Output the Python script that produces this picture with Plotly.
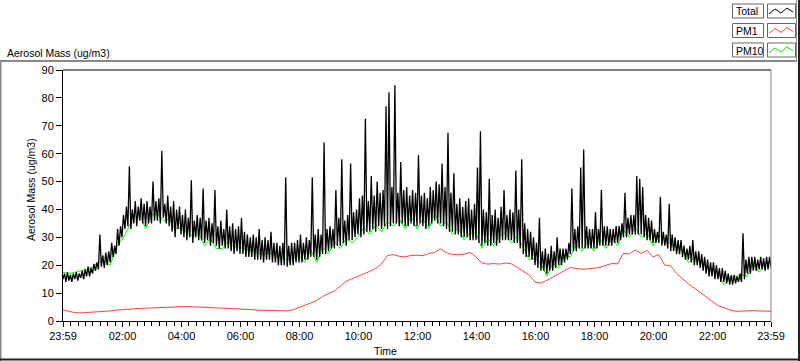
import numpy as np
import plotly.graph_objects as go

# ---- data: hours after the 23:59 start ----
# Total: per 6-minute bin, the lowest and highest reading seen in that bin
TOTAL_STEP_H = 0.1
PM_STEP_H = 0.2      # PM10 and PM1: 12-minute samples

total_low = [
    15, 14, 14.5, 14, 15, 14.5, 15.5, 15, 16, 16,
    17, 18, 18.5, 19.5, 19, 20, 21, 23, 24, 27,
    30, 33, 34, 33, 35, 34, 36, 35, 34, 35,
    35, 36, 36, 35, 37, 35, 34, 32, 30, 33,
    31, 30, 29, 30, 28, 30, 29, 29, 28, 29,
    27, 28, 27, 26, 27, 26, 26, 25, 24, 25,
    24, 24, 23, 23, 23, 22, 22, 22, 21, 22,
    22, 21, 21, 20, 20, 20, 19.5, 20, 20, 21,
    21, 21, 22, 22, 23, 23, 22, 23, 24, 24,
    25, 26, 26, 27, 27, 28, 27, 29, 29, 30,
    31, 30, 31, 32, 32, 33, 32, 34, 33, 34,
    33, 34, 35, 35, 34, 35, 34, 34, 35, 34,
    34, 35, 34, 33, 34, 35, 36, 35, 35, 34,
    33, 32, 32, 31, 31, 30, 30, 30, 29, 29,
    29, 28, 27, 28, 27, 27, 28, 27, 28, 29,
    29, 29, 29, 28, 28, 26, 24, 23, 23, 22,
    20, 19, 18, 18, 17, 18, 18, 19, 20, 20,
    21, 22, 24, 25, 25, 26, 26, 26, 26, 26,
    26, 26, 27, 27, 27, 27, 27, 28, 28, 29,
    30, 30, 31, 31, 31, 31, 31, 30, 29, 29,
    28, 28, 28, 27, 27, 26, 25, 25, 24, 24,
    23, 22, 22, 21, 20, 20, 19, 18, 17, 16,
    16, 15, 15, 14, 14, 13.5, 13, 13, 13.5, 14,
    14, 15, 17, 17, 18, 18, 18.5, 18.5, 18, 18.5,
    19,
]

total_high = [
    17, 17.5, 16.5, 17, 17.5, 17, 18, 18.5, 19.5, 19,
    20.5, 21, 31, 23.5, 24.5, 25, 28, 27, 33, 34,
    38, 41, 55.5, 40, 43, 41, 44, 42, 43, 41,
    50, 43, 44, 61, 42, 45, 41, 43, 40, 41,
    38, 40, 37, 50.5, 36, 38, 37, 47.5, 36, 37,
    35, 47, 34, 36, 33, 40, 34, 35, 33, 34,
    37, 32, 31, 30, 31, 30, 33, 29, 30, 29,
    32, 28, 28, 27, 28, 51.5, 27, 28, 28, 29,
    31, 28, 30, 29, 51.5, 31, 33, 31, 64, 33,
    34, 33, 47, 37, 58, 36, 38, 56.5, 39, 40,
    44, 45, 72.5, 43, 52, 45, 50, 46, 47, 77,
    82, 48, 84.5, 46, 57, 47, 48, 45, 47, 46,
    59.5, 45, 46, 44, 48, 47, 50, 49, 56.5, 48,
    67.5, 46, 53, 42, 44, 41, 43, 44, 40, 42,
    55, 68, 40, 39, 51, 38, 40, 37, 41, 47,
    38, 40, 39, 54, 40, 58, 35, 33, 32, 30,
    28, 37, 25, 26, 24, 27, 25, 30, 26, 26,
    26, 28, 47.5, 33, 34, 55, 61.5, 34, 33, 33,
    39, 33, 47, 34, 34, 33, 33, 34, 34, 35,
    46, 37, 38, 38, 52, 51, 48, 38, 37, 36,
    33, 32, 44.5, 32, 31, 42, 31, 30, 29, 29,
    27, 26, 27, 29, 25, 25, 24, 23, 22, 21,
    21, 20, 19, 19, 18, 17, 16.5, 16.5, 16, 17,
    31.5, 22, 23, 23, 23, 22, 23, 22.5, 23, 23,
    26,
]

pm10 = [
    17.5, 17, 17.5, 18, 18.5,
    19.5, 21, 21.5, 20, 26.5,
    29, 33, 38, 38.5, 33,
    38, 38.5, 36, 36.5, 33,
    33.5, 31.5, 30.5, 31.5, 27,
    29.5, 26, 26, 28.5, 26.5,
    26.5, 25.5, 25.5, 24.5, 23.5,
    24.5, 23.5, 22.5, 22, 22.5,
    23.5, 21, 25.5, 21, 26.5,
    24, 28.5, 26, 29.5, 28,
    30, 33.5, 31, 34.5, 32,
    35.5, 34, 36.5, 33, 37.5,
    33, 36.5, 33, 38.5, 34,
    35.5, 31, 33.5, 29, 31.5,
    31.5, 26, 29.5, 27, 30.5,
    31.5, 28, 30.5, 26.5, 22,
    22.5, 20.5, 16, 20.5, 19,
    23.5, 23, 27.5, 25, 28.5,
    25, 29.5, 26, 29.5, 27,
    32.5, 30, 33.5, 30, 31.5,
    27, 30.5, 29.5, 27.5, 26.5,
    25.5, 21, 22.5, 21.5, 19.5,
    18.5, 17.5, 13, 15.5, 16,
    16.5, 16, 20.5, 17.5, 20.5,
    21.5,
]

pm1 = [
    4.0, 3.4, 3.0, 2.9, 3.0,
    3.1, 3.2, 3.4, 3.6, 3.9,
    4.1, 4.3, 4.4, 4.5, 4.6,
    4.7, 4.8, 4.9, 5.0, 5.2,
    5.3, 5.2, 5.1, 5.0, 4.9,
    4.8, 4.8, 4.7, 4.6, 4.6,
    4.5, 4.3, 4.1, 3.9, 3.8,
    3.7, 3.6, 3.5, 3.6, 4.0,
    4.8, 5.5, 6.5, 7.3, 8.8,
    9.8, 10.8, 12.5, 14.3, 15.2,
    16.0, 17.0, 17.8, 18.8, 20.5,
    23.5, 23.8, 23.2, 23.0, 23.5,
    23.6, 23.4, 24.2, 24.6, 25.8,
    24.5, 23.8, 23.8, 24.0, 24.6,
    23.0, 20.8, 20.4, 20.6, 20.4,
    20.8, 20.5, 19.2, 17.8, 16.5,
    14.0, 13.6, 14.6, 15.8, 17.0,
    18.2, 19.2, 18.8, 18.6, 18.7,
    18.9, 19.2, 20.0, 20.6, 20.5,
    24.3, 24.0, 25.5, 24.2, 25.3,
    23.0, 23.8, 20.0, 19.8, 17.0,
    15.0, 13.3, 11.8, 10.2, 8.5,
    7.0, 5.5, 4.8, 4.0, 3.5,
    3.6, 3.8, 3.7, 3.6, 3.6,
    3.5,
]

tick_labels = ["23:59", "02:00", "04:00", "06:00", "08:00", "10:00", "12:00",
               "14:00", "16:00", "18:00", "20:00", "22:00", "23:59"]
tick_hours = [0] + [2 * k + 1 / 60 for k in range(1, 12)] + [24]
y_ticks = [0, 10, 20, 30, 40, 50, 60, 70, 80, 90]

# min/max per bin drawn as one continuous trace (low at bin start, high mid-bin)
t_bins = np.arange(len(total_low)) * TOTAL_STEP_H
t_total = np.empty(2 * len(t_bins))
t_total[0::2] = t_bins
t_total[1::2] = t_bins + TOTAL_STEP_H / 2
y_total = np.empty(2 * len(t_bins))
y_total[0::2] = total_low
y_total[1::2] = total_high

t_pm = np.arange(len(pm1)) * PM_STEP_H

FONT = "Liberation Sans"
W, H = 800, 361
L, R, T, B = 63, 29, 70, 40
PW, PH = W - L - R, H - T - B


def px(x):
    return (x - L) / PW


def py(y):
    return (H - B - y) / PH


fig = go.Figure()
fig.add_trace(go.Scatter(x=t_pm, y=pm10, mode="lines", name="PM10",
                         line=dict(color="#00ff00", width=1)))
fig.add_trace(go.Scatter(x=t_total, y=y_total, mode="lines", name="Total",
                         line=dict(color="#000000", width=1.3)))
fig.add_trace(go.Scatter(x=t_pm, y=pm1, mode="lines", name="PM1",
                         line=dict(color="#ff4040", width=1)))

shapes = []
# plot frame: top black, right gray
shapes.append(dict(type="line", xref="paper", yref="paper", x0=0, x1=1, y0=1, y1=1,
                   line=dict(color="#000000", width=1)))
shapes.append(dict(type="line", xref="paper", yref="paper", x0=1, x1=1, y0=0, y1=1,
                   line=dict(color="#888888", width=1)))
# outer panel frame
shapes.append(dict(type="line", xref="paper", yref="paper", x0=px(0), x1=px(797),
                   y0=py(61), y1=py(61), line=dict(color="#888888", width=2)))
shapes.append(dict(type="line", xref="paper", yref="paper", x0=px(0.5), x1=px(0.5),
                   y0=py(61), y1=py(361), line=dict(color="#888888", width=2)))
shapes.append(dict(type="line", xref="paper", yref="paper", x0=px(0), x1=px(800),
                   y0=py(359.5), y1=py(359.5), line=dict(color="#222222", width=2)))
shapes.append(dict(type="line", xref="paper", yref="paper", x0=px(799), x1=px(799),
                   y0=py(0), y1=py(361), line=dict(color="#222222", width=2)))
shapes.append(dict(type="line", xref="paper", yref="paper", x0=px(796.5), x1=px(796.5),
                   y0=py(0), y1=py(61), line=dict(color="#888888", width=1)))

# legend (drawn as boxes)
rows = [("Total", "#000000", 4), ("PM1", "#ff4040", 23.5), ("PM10", "#00dd00", 43)]
annotations = []
for name, col, top in rows:
    shapes.append(dict(type="rect", xref="paper", yref="paper",
                       x0=px(732.5), x1=px(763.5), y0=py(top), y1=py(top + 14),
                       line=dict(color="#666666", width=1), fillcolor="white"))
    shapes.append(dict(type="rect", xref="paper", yref="paper",
                       x0=px(767.5), x1=px(795.5), y0=py(top), y1=py(top + 14),
                       line=dict(color="#666666", width=1), fillcolor="white"))
    zx = [769, 775, 781, 787, 793]
    zy = [top + 10, top + 5, top + 9, top + 4, top + 8]
    path = "M " + " L ".join(f"{px(a):.5f},{py(b):.5f}" for a, b in zip(zx, zy))
    shapes.append(dict(type="path", xref="paper", yref="paper", path=path,
                       line=dict(color=col, width=1)))
    annotations.append(dict(text=name, xref="paper", yref="paper", x=px(733.5), y=py(top + 7.5),
                            xanchor="left", yanchor="middle", showarrow=False,
                            font=dict(family=FONT, size=10.5, color="black")))

annotations.append(dict(text="Aerosol Mass (ug/m3)", xref="paper", yref="paper",
                        x=px(5), y=py(53), xanchor="left", yanchor="middle",
                        showarrow=False, font=dict(family=FONT, size=10.5, color="black")))
annotations.append(dict(text="Aerosol Mass (ug/m3)", xref="paper", yref="paper",
                        x=px(31), y=py(190), xanchor="center", yanchor="middle",
                        textangle=-90, showarrow=False,
                        font=dict(family=FONT, size=10.5, color="black")))
annotations.append(dict(text="Time", xref="paper", yref="paper",
                        x=px(385), y=py(351), xanchor="center", yanchor="middle",
                        showarrow=False, font=dict(family=FONT, size=10.5, color="black")))

fig.update_layout(
    width=W, height=H,
    margin=dict(l=L, r=R, t=T, b=B),
    paper_bgcolor="white", plot_bgcolor="white",
    font=dict(family=FONT, size=11, color="black"),
    shapes=shapes, annotations=annotations, showlegend=False,
    xaxis=dict(range=[0, 24], tickmode="array", tickvals=tick_hours, ticktext=tick_labels,
               ticks="outside", ticklen=5, tickcolor="black", showgrid=False, zeroline=False,
               showline=True, linecolor="black", linewidth=1,
               tickfont=dict(family=FONT, size=11, color="black"),
               minor=dict(ticks="outside", ticklen=4, tickcolor="black",
                          tick0=1 / 60, dtick=0.25, showgrid=False)),
    yaxis=dict(range=[0, 90], tickmode="array", tickvals=y_ticks,
               ticks="outside", ticklen=6, tickcolor="black", showgrid=False, zeroline=False,
               showline=True, linecolor="black", linewidth=1,
               tickfont=dict(family=FONT, size=11, color="black")),
)

fig.write_html("out.html", config={"displayModeBar": False},
               post_script="document.body.style.margin='0';document.body.style.overflow='hidden';")
